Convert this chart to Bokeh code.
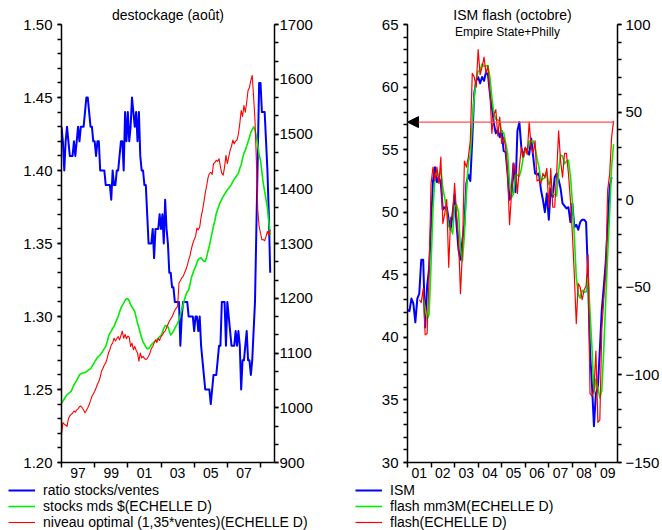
from bokeh.plotting import figure
from bokeh.models import (Range1d, LinearAxis, FixedTicker, Legend, LegendItem,
                          Label, Arrow, NormalHead, PrintfTickFormatter, Title)
from bokeh.layouts import row, column
from bokeh.embed import file_html
from bokeh.resources import INLINE

FONT = "Liberation Sans"

# ---------------- left chart data (monthly, from Jan 1996) ----------------
left_start_year = 1996
ratio = [
    1.43, 1.42, 1.40, 1.42, 1.43, 1.42, 1.41, 1.41, 1.41, 1.42,
    1.41, 1.42, 1.43, 1.42, 1.43, 1.43, 1.43, 1.44, 1.45, 1.45,
    1.44, 1.43, 1.43, 1.42, 1.42, 1.41, 1.42, 1.42, 1.40, 1.40,
    1.40, 1.40, 1.39, 1.39, 1.39, 1.39, 1.38, 1.40, 1.39, 1.39,
    1.40, 1.40, 1.41, 1.42, 1.42, 1.40, 1.44, 1.42, 1.44, 1.42,
    1.43, 1.45, 1.44, 1.43, 1.44, 1.42, 1.44, 1.41, 1.40, 1.40,
    1.39, 1.39, 1.37, 1.35, 1.35, 1.35, 1.36, 1.34, 1.36, 1.36,
    1.36, 1.37, 1.36, 1.37, 1.35, 1.38, 1.36, 1.35, 1.33, 1.33,
    1.32, 1.32, 1.31, 1.31, 1.31, 1.31, 1.28, 1.30, 1.31, 1.31,
    1.31, 1.31, 1.30, 1.30, 1.30, 1.30, 1.29, 1.30, 1.30, 1.29,
    1.30, 1.28, 1.27, 1.26, 1.25, 1.25, 1.25, 1.25, 1.24, 1.25,
    1.26, 1.26, 1.26, 1.27, 1.28, 1.28, 1.31, 1.31, 1.31, 1.28,
    1.31, 1.30, 1.29, 1.28, 1.28, 1.28, 1.29, 1.28, 1.29, 1.28,
    1.25, 1.27, 1.27, 1.28, 1.29, 1.27, 1.27, 1.26, 1.27, 1.29,
    1.31, 1.36, 1.41, 1.46, 1.46, 1.44, 1.44, 1.44, 1.42, 1.40, 1.37, 1.33,
]
stocks = [
    1008, 1012, 1016, 1020, 1024, 1026, 1028, 1030, 1036, 1042,
    1046, 1050, 1055, 1060, 1062, 1063, 1064, 1064, 1066, 1068,
    1070, 1071, 1075, 1079, 1084, 1088, 1092, 1094, 1097, 1100,
    1104, 1108, 1112, 1120, 1130, 1136, 1140, 1145, 1148, 1155,
    1161, 1167, 1175, 1182, 1187, 1191, 1196, 1199, 1199, 1195,
    1188, 1184, 1180, 1176, 1165, 1155, 1146, 1136, 1128, 1120,
    1116, 1111, 1108, 1108, 1111, 1115, 1118, 1120, 1122, 1124,
    1127, 1130, 1132, 1138, 1145, 1150, 1150, 1148, 1140, 1133,
    1136, 1140, 1145, 1150, 1154, 1160, 1170, 1179, 1188, 1198,
    1206, 1212, 1215, 1225, 1238, 1245, 1252, 1258, 1265, 1271,
    1273, 1274, 1270, 1268, 1267, 1275, 1286, 1296, 1308, 1320,
    1332, 1342, 1355, 1362, 1370, 1376, 1381, 1386, 1390, 1394,
    1398, 1401, 1404, 1408, 1413, 1418, 1421, 1425, 1428, 1437,
    1444, 1455, 1465, 1470, 1478, 1486, 1494, 1503, 1508, 1513,
    1508, 1495, 1480, 1462, 1452, 1430, 1410, 1395, 1380, 1365, 1340, 1315,
]
niveau = [
    951, 973, 970, 968, 966, 980, 985, 988, 990, 994,
    992, 996, 998, 1002, 1003, 1000, 996, 991, 995, 1000,
    1006, 1013, 1021, 1025, 1030, 1036, 1043, 1048, 1056, 1067,
    1072, 1078, 1082, 1090, 1100, 1106, 1115, 1118, 1127, 1122,
    1126, 1130, 1124, 1132, 1140, 1127, 1134, 1126, 1131, 1129,
    1112, 1118, 1106, 1112, 1105, 1100, 1085, 1100, 1091, 1094,
    1090, 1088, 1090, 1094, 1100, 1108, 1112, 1118, 1124, 1119,
    1127, 1123, 1130, 1133, 1138, 1140, 1146, 1152, 1158, 1162,
    1166, 1172, 1178, 1182, 1185, 1228, 1232, 1237, 1240, 1246,
    1252, 1260, 1270, 1278, 1290, 1300, 1307, 1313, 1328, 1325,
    1330, 1348, 1360, 1375, 1392, 1405, 1420, 1428, 1430, 1426,
    1446, 1448, 1452, 1450, 1455, 1440, 1428, 1425, 1440, 1461,
    1446, 1458, 1470, 1478, 1489, 1482, 1487, 1489, 1500, 1519,
    1543, 1532, 1552, 1540, 1558, 1580, 1585, 1598, 1607, 1568,
    1525, 1452, 1361, 1331, 1319, 1307, 1307, 1305, 1313, 1322, 1315, 1325,
]
left_x = [left_start_year + i / 12 for i in range(len(ratio))]

left_year_ticks = [1997, 1999, 2001, 2003, 2005, 2007]
left_year_labels = ["97", "99", "01", "03", "05", "07"]
left_year_bounds = [1996, 1998, 2000, 2002, 2004, 2006, 2008]
ratio_ticks = [1.20, 1.25, 1.30, 1.35, 1.40, 1.45, 1.50]
ratio_minor = [round(1.20 + 0.01 * i, 2) for i in range(31)]
stocks_ticks = [900, 1000, 1100, 1200, 1300, 1400, 1500, 1600, 1700]
stocks_minor = [900 + 100 * i / 3 for i in range(25)]

# ---------------- right chart data (monthly, from Jan 2001) ----------------
right_start_year = 2001
ism = [
    42.2, 42.1, 43.1, 42.7, 41.2, 43.1, 43.5, 46.2, 46.2, 40.8,
    44.1, 45.5, 49.0, 52.5, 53.6, 52.4, 52.8, 52.3, 50.2, 50.4,
    50.4, 49.4, 48.6, 49.9, 51.4, 49.0, 47.0, 46.2, 47.8, 49.0,
    52.3, 53.0, 52.5, 55.8, 59.5, 60.5, 60.8, 60.3, 60.8, 60.5,
    61.2, 61.0, 59.5, 58.4, 57.1, 56.3, 56.6, 56.0, 56.5, 54.9,
    54.8, 53.1, 51.0, 51.5, 53.9, 51.6, 56.5, 57.2, 55.2, 54.4,
    55.1, 54.9, 54.6, 55.9, 54.5, 53.1, 53.0, 53.1, 51.8, 51.0,
    50.0, 51.5, 49.4, 51.9, 51.2, 52.8, 53.1, 52.6, 51.9, 50.7,
    50.5, 50.3, 50.4, 49.2, 50.7, 48.8, 49.0, 48.6, 49.2, 49.4,
    49.4, 49.2, 44.8, 38.9, 36.2, 32.9, 35.5, 36.0, 39.0, 42.2,
    44.0, 46.0, 48.8, 52.0, 52.8,
]
flash_start = 6  # first flash value: July 2001
flash = [
    -57.1, -58.6, -50.7, -77.1, -76.4, -42.9, 9.3, 18.6, 10.7, 18.6,
    9.3, 24.3, -13.6, -7.9, 0.0, -38.6, -10.0, -10.0, 9.3, -7.9,
    -22.9, -53.6, -28.6, 22.1, 18.6, 24.3, 33.6, 72.1, 70.0, 64.3,
    85.7, 71.4, 75.7, 81.4, 72.1, 76.4, 60.7, 37.9, 48.6, 51.4,
    36.4, 47.1, 32.1, 35.7, 30.0, 14.3, -14.3, 3.6, 20.7, 17.9,
    3.6, 18.6, 30.0, 24.3, 30.0, 25.7, 44.3, 30.0, 26.4, 33.6,
    10.7, 11.4, 9.3, 15.0, 12.9, 17.9, -4.3, 17.9, -4.3, -4.3,
    15.0, 39.3, 22.1, 12.9, 26.4, 26.4, 15.0, 0.0, -19.3, -42.9,
    -70.7, -47.9, -50.0, -57.1, -51.4, -49.3, -31.4, -110.7, -112.1, -108.6,
    -86.4, -127.1, -125.7, -74.3, -57.1, -42.1, 5.7, 14.3, 35.7, 45.0,
]
flash_mm3_start = 8  # first 3-month average: September 2001
flash_mm3 = [
    -55.5, -62.1, -68.1, -65.5, -36.7, -5.0, 12.9, 16.0, 12.9, 17.4,
    6.7, 0.9, -7.2, -15.5, -16.2, -19.5, -3.6, -2.9, -7.2, -28.1,
    -35.0, -20.0, 4.0, 21.7, 25.5, 43.3, 58.6, 68.8, 73.3, 73.8,
    77.6, 76.2, 76.4, 76.6, 69.7, 58.3, 49.1, 46.0, 45.5, 45.0,
    38.5, 38.3, 32.6, 26.7, 10.0, 1.2, 3.3, 14.1, 14.1, 13.4,
    17.4, 24.3, 28.1, 26.7, 33.3, 33.3, 33.6, 30.0, 23.6, 18.6,
    10.5, 11.9, 12.4, 15.3, 8.8, 10.5, 3.1, 3.1, 2.1, 16.7,
    25.5, 24.8, 20.5, 21.9, 22.6, 13.8, -1.4, -20.7, -44.3, -53.8,
    -56.2, -51.7, -52.8, -52.6, -44.0, -63.8, -84.7, -110.5, -102.4, -107.4,
    -113.1, -109.0, -85.7, -57.8, -31.2, -7.4, 18.6, 31.7,
]
ism_x = [right_start_year + i / 12 for i in range(len(ism))]
flash_x = [right_start_year + (flash_start + i) / 12 for i in range(len(flash))]
mm3_x = [right_start_year + (flash_mm3_start + i) / 12 for i in range(len(flash_mm3))]

flash_ism_equiv = 57.2  # latest flash expressed on the ISM scale

right_year_ticks = [2001.5, 2002.5, 2003.5, 2004.5, 2005.5, 2006.5, 2007.5, 2008.5, 2009.5]
right_year_labels = ["01", "02", "03", "04", "05", "06", "07", "08", "09"]
right_year_bounds = [2001, 2002, 2003, 2004, 2005, 2006, 2007, 2008, 2009]
ism_ticks = [30, 35, 40, 45, 50, 55, 60, 65]
ism_minor = list(range(30, 66))
flash_ticks = [-150, -100, -50, 0, 50, 100]
flash_minor = list(range(-150, 101, 10))

BLUE, GREEN, RED = "#0000ff", "#00ee00", "#ff0000"
CHART_H = 480
LEGEND_H = 530 - CHART_H


def style_axis(ax, size="15px"):
    ax.axis_line_color = "black"
    ax.axis_line_width = 1.5
    ax.major_tick_line_color = "black"
    ax.major_tick_line_width = 1.5
    ax.minor_tick_line_color = "black"
    ax.minor_tick_line_width = 1.5
    ax.major_tick_in = 0
    ax.major_tick_out = 4
    ax.minor_tick_in = 0
    ax.minor_tick_out = 4
    ax.major_label_text_font = FONT
    ax.major_label_text_font_size = size
    ax.major_label_text_color = "black"


def base_fig(width, xr, yr, left, right):
    p = figure(width=width, height=CHART_H, output_backend="svg", toolbar_location=None,
               x_range=xr, y_range=yr, x_axis_location=None, y_axis_location=None,
               min_border_left=left, min_border_right=right,
               min_border_top=24, min_border_bottom=CHART_H - 24 - 439)
    p.outline_line_color = None
    p.grid.visible = False
    p.background_fill_color = "white"
    p.border_fill_color = "white"
    return p


def add_title(p, text):
    t = Title(text=text, align="center", text_font=FONT, text_font_size="14px",
              text_font_style="normal", text_color="black", standoff=3, offset=0)
    p.add_layout(t, "above")


def year_axis(ticks, bounds, labels):
    ax = LinearAxis(ticker=FixedTicker(ticks=ticks, minor_ticks=bounds),
                    major_label_overrides=dict(zip(ticks, labels)))
    style_axis(ax, "14px")
    ax.major_tick_line_color = None
    ax.major_tick_out = 1
    ax.minor_tick_out = 5
    ax.major_label_standoff = 0
    return ax


def legend_fig(width, entries, x_off):
    # the legend lives in its own strip; the series are drawn there too, but the
    # strip's ranges lie far outside the data, so only the legend samples show
    lf = figure(width=width, height=LEGEND_H, output_backend="svg", toolbar_location=None,
                x_range=Range1d(0, 1), y_range=Range1d(0, 1),
                x_axis_location=None, y_axis_location=None,
                min_border_left=0, min_border_right=0, min_border_top=0, min_border_bottom=0)
    lf.outline_line_color = None
    lf.grid.visible = False
    items = []
    for label, color, lw, xs, ys in entries:
        r = lf.line(xs, ys, line_color=color, line_width=lw)
        items.append(LegendItem(label=label, renderers=[r]))
    lg = Legend(items=items, location=(x_off, 0), orientation="vertical")
    lg.margin = 0
    lg.padding = 0
    lg.spacing = 0
    lg.glyph_width = 27
    lg.glyph_height = 16
    lg.label_height = 16
    lg.label_standoff = 8
    lg.label_text_font = FONT
    lg.label_text_font_size = "14px"
    lg.label_text_color = "black"
    lg.border_line_color = None
    lg.background_fill_alpha = 0
    lf.add_layout(lg)
    return lf


# ---------------- left figure ----------------
p1 = base_fig(352, Range1d(1996.0, 2008.843), Range1d(1.20, 1.50), 61, 78)
p1.extra_y_ranges = {"stocks": Range1d(900, 1700)}
add_title(p1, "destockage (août)")

ya = LinearAxis(ticker=FixedTicker(ticks=ratio_ticks, minor_ticks=ratio_minor),
                formatter=PrintfTickFormatter(format="%.2f"))
style_axis(ya)
ya.major_label_standoff = 5
p1.add_layout(ya, "left")

yb = LinearAxis(y_range_name="stocks",
                ticker=FixedTicker(ticks=stocks_ticks, minor_ticks=stocks_minor))
style_axis(yb)
yb.major_label_standoff = 1
p1.add_layout(yb, "right")

p1.add_layout(year_axis(left_year_ticks, left_year_bounds, left_year_labels), "below")

p1.line(left_x, ratio, line_color=BLUE, line_width=2, line_join="round")
p1.line(left_x, stocks, y_range_name="stocks", line_color=GREEN,
        line_width=1.6, line_join="round")
p1.line(left_x, niveau, y_range_name="stocks", line_color=RED,
        line_width=1.1, line_join="round")

# ---------------- right figure ----------------
p2 = base_fig(310, Range1d(2001.0, 2009.917), Range1d(30, 65), 55, 41)
p2.extra_y_ranges = {"flash": Range1d(-150, 100)}
add_title(p2, "ISM flash (octobre)")

yc = LinearAxis(ticker=FixedTicker(ticks=ism_ticks, minor_ticks=ism_minor))
style_axis(yc)
yc.major_label_standoff = 5
p2.add_layout(yc, "left")

yd = LinearAxis(y_range_name="flash",
                ticker=FixedTicker(ticks=flash_ticks, minor_ticks=flash_minor))
style_axis(yd)
yd.major_label_standoff = 4
p2.add_layout(yd, "right")

p2.add_layout(year_axis(right_year_ticks, right_year_bounds, right_year_labels), "below")

p2.line(ism_x, ism, line_color=BLUE, line_width=2, line_join="round")
p2.line(mm3_x, flash_mm3, y_range_name="flash", line_color=GREEN,
        line_width=1.6, line_join="round")
p2.line(flash_x, flash, y_range_name="flash", line_color=RED,
        line_width=1.2, line_join="round")

p2.add_layout(Arrow(x_start=flash_x[-1], y_start=flash_ism_equiv,
                    x_end=right_start_year, y_end=flash_ism_equiv,
                    line_color="#ff5050", line_width=1.2,
                    end=NormalHead(size=11, fill_color="black", line_color="black")))

p2.add_layout(Label(x=100, y=431, x_units="screen", y_units="screen",
                    text="Empire State+Philly", text_align="center",
                    text_baseline="alphabetic", text_font=FONT,
                    text_font_size="12px", text_color="black"))

# ---------------- legends ----------------
l1 = legend_fig(352, [("ratio stocks/ventes", BLUE, 2, left_x, ratio),
                      ("stocks mds $(ECHELLE D)", GREEN, 1.6, left_x, stocks),
                      ("niveau optimal (1,35*ventes)(ECHELLE D)", RED, 1.1, left_x, niveau)], 8)
l2 = legend_fig(310, [("ISM", BLUE, 2, ism_x, ism),
                      ("flash mm3M(ECHELLE D)", GREEN, 1.6, mm3_x, flash_mm3),
                      ("flash(ECHELLE D)", RED, 1.2, flash_x, flash)], 3)

layout = column(row(p1, p2), row(l1, l2))
open("out.html", "w").write(file_html(layout, INLINE, title="destockage / ISM flash"))
